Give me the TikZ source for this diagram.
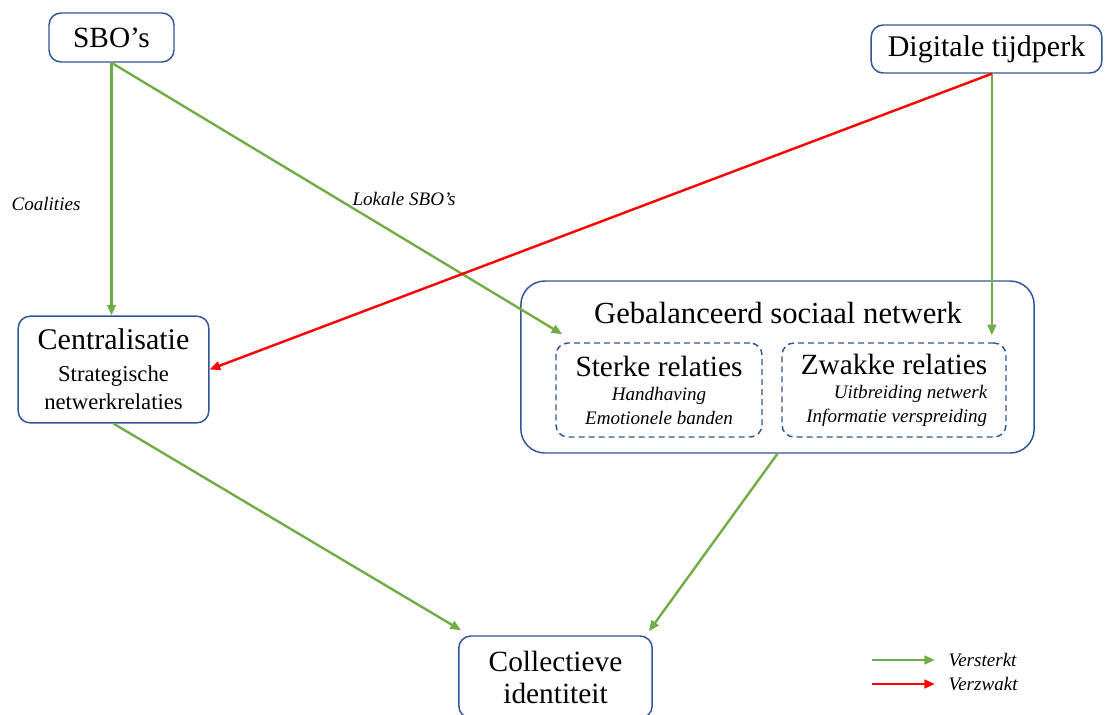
\documentclass[tikz,border=0pt]{standalone}
\usepackage{fontspec}
\setmainfont{Liberation Serif}
\usetikzlibrary{arrows.meta, positioning, calc}

\definecolor{boxblue}{RGB}{47,85,151}
\definecolor{posgreen}{RGB}{112,173,71}

\begin{document}
\begin{tikzpicture}[
    x=0.75pt, y=-0.75pt,
    box/.style={rectangle, draw=boxblue, line width=1.1pt, rounded corners=9pt, align=center, inner sep=0pt, font=\fontsize{22}{24}\selectfont},
    subbox/.style={rectangle, draw=boxblue, line width=1.1pt, dash pattern=on 4.5pt off 3pt, rounded corners=9pt, inner sep=0pt, minimum height=70.5pt, font=\fontsize{14.3}{18}\selectfont\itshape},
    arrow/.style={-{Triangle[length=8pt,width=6.5pt]}, line width=1.8pt, draw=posgreen},
    redarrow/.style={-{Triangle[length=8pt,width=6.5pt]}, line width=1.8pt, draw=red},
    lbl/.style={font=\fontsize{14.3}{16}\selectfont\itshape}
]
\useasboundingbox (0,0) rectangle (1106,714);

% Sources
\node[box, minimum width=93.75pt, minimum height=36.75pt] (sbo) at (111.5,37.5) {SBO’s};
\node[box, minimum width=173pt, minimum height=36pt] (digi) at (986.5,49) {\fontsize{22.5}{24}\selectfont Digitale tijdperk};

% Centralisation
\node[box, minimum width=143pt, minimum height=80pt, font=\fontsize{17}{21}\selectfont] (central) at (113.5,369.5)
    {{\fontsize{22.5}{24}\selectfont Centralisatie}\\[3pt] Strategische\\ netwerkrelaties};

% Balanced network
\node[box, rounded corners=18pt, minimum width=385pt, minimum height=129pt] (gsn) at (777.5,367) {};
\node[font=\fontsize{23}{24}\selectfont] (gsntitle) at (778,313) {Gebalanceerd sociaal netwerk};
\node[subbox, minimum width=154.5pt, align=center] (sterk) at (659,390)
    {{\upshape\fontsize{22}{24}\selectfont Sterke relaties}\\[0pt] Handhaving\\ Emotionele banden};
\node[subbox, minimum width=168pt, align=right] (zwak) at (894,390)
    {{\upshape\fontsize{22}{24}\selectfont Zwakke relaties}\\[0pt] Uitbreiding netwerk\\ Informatie verspreiding};

% Outcome
\node[box, minimum width=145pt, minimum height=61.5pt] (coll) at (555.5,677) {Collectieve\\ identiteit};

% Arrows
\draw[arrow] (sbo.south) -- (sbo.south |- central.north);
\draw[arrow] (sbo.south) -- ($(sterk.north west)+(7,-8)$);
\draw[arrow] ([xshift=4pt]digi.south) -- ($([xshift=4pt]digi.south |- zwak.north)+(0,-7)$);
\draw[redarrow] ([xshift=4pt]digi.south) -- (central.east);
\draw[arrow] (central.south) -- ($(coll.north west)+(3,-5)$);
\draw[arrow] (gsn.south) -- ($(coll.north east)+(-4,-4)$);

% Labels
\node[lbl] (coalities) at (46,204) {Coalities};
\node[lbl] (lokaal) at (404,199) {Lokale SBO’s};

% Legend
\coordinate (g1) at (872,660);
\coordinate (g2) at (935,660);
\coordinate (r1) at (872,684);
\coordinate (r2) at (935,684);
\draw[arrow] (g1) -- (g2);
\draw[redarrow] (r1) -- (r2);
\node[lbl, anchor=west] (versterkt) at (944,660) {Versterkt};
\node[lbl, anchor=west] (verzwakt) at (944,684) {Verzwakt};

\end{tikzpicture}
\end{document}
